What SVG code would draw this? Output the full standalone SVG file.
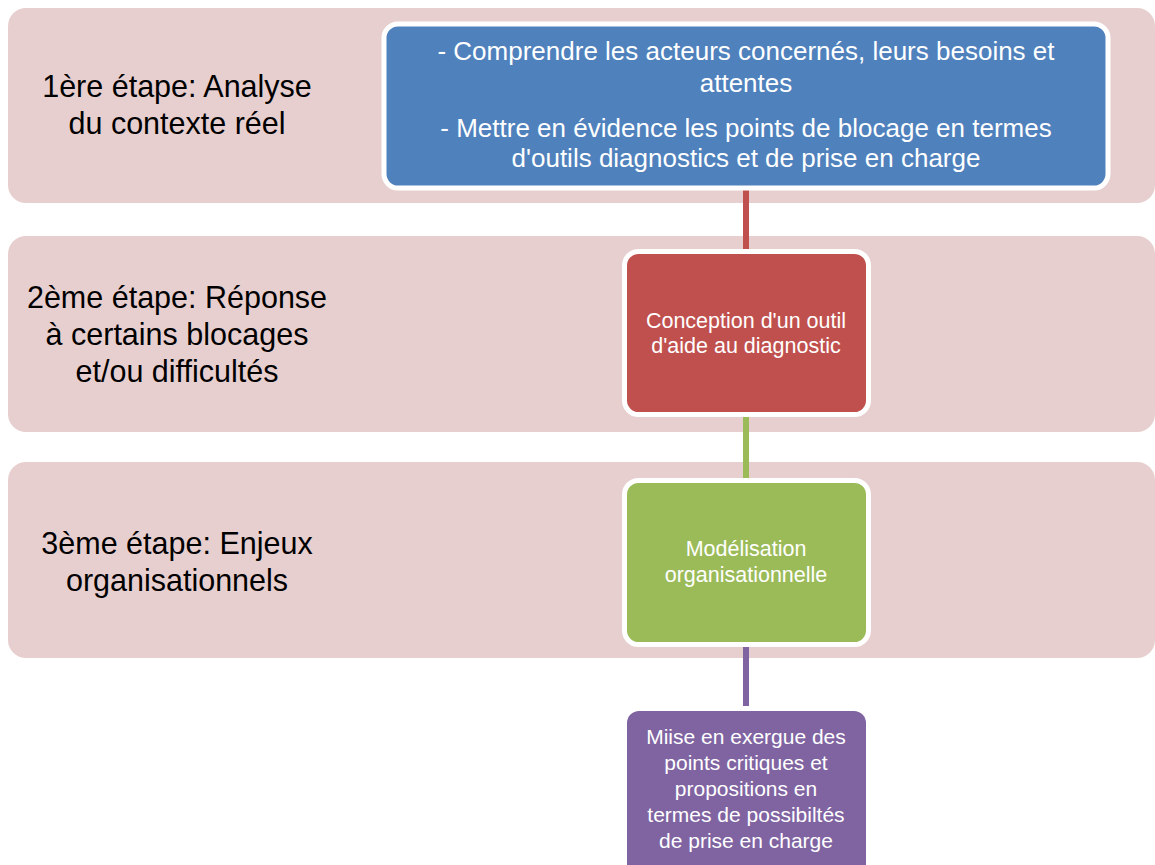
<svg xmlns="http://www.w3.org/2000/svg" width="1155" height="865" viewBox="0 0 1155 865">
<style>
.band{fill:#E8CFCF}
.lbl{font-family:"Liberation Sans",Arial,sans-serif;font-size:30.5px;fill:#000;text-anchor:middle}
.wt{font-family:"Liberation Sans",Arial,sans-serif;fill:#fff;text-anchor:middle}
.conn{stroke-width:6;fill:none}
</style>
<rect width="1155" height="865" fill="#fff"/>
<g id="band1"><rect class="band" x="8" y="8" width="1147" height="195" rx="18"/>
<text class="lbl" x="177" y="97">1ère étape: Analyse</text>
<text class="lbl" x="177" y="134">du contexte réel</text></g>
<g id="band2"><rect class="band" x="8" y="236" width="1147" height="196" rx="18"/>
<text class="lbl" x="177" y="308">2ème étape: Réponse</text>
<text class="lbl" x="177" y="345">à certains blocages</text>
<text class="lbl" x="177" y="382">et/ou difficultés</text></g>
<g id="band3"><rect class="band" x="8" y="462" width="1147" height="196" rx="18"/>
<text class="lbl" x="177" y="554">3ème étape: Enjeux</text>
<text class="lbl" x="177" y="591">organisationnels</text></g>
<g id="connectors">
<line class="conn" stroke="#C0504D" x1="746" y1="188" x2="746" y2="252"/>
<line class="conn" stroke="#9BBB59" x1="746" y1="414" x2="746" y2="481"/>
<line class="conn" stroke="#8064A2" x1="746" y1="645" x2="746" y2="706"/>
</g>
<g id="node1"><rect x="384" y="24" width="724" height="164" rx="14" fill="#4F81BD" stroke="#fff" stroke-width="5"/>
<text class="wt" font-size="26" x="746" y="60">- Comprendre les acteurs concernés, leurs besoins et</text>
<text class="wt" font-size="26" x="746" y="92">attentes</text>
<text class="wt" font-size="26" x="746" y="137">- Mettre en évidence les points de blocage en termes</text>
<text class="wt" font-size="26" x="746" y="167">d'outils diagnostics et de prise en charge</text></g>
<g id="node2"><rect x="624.5" y="251.5" width="244" height="163" rx="14" fill="#C0504D" stroke="#fff" stroke-width="5"/>
<text class="wt" font-size="21.5" x="746" y="328">Conception d'un outil</text>
<text class="wt" font-size="21.5" x="746" y="353">d'aide au diagnostic</text></g>
<g id="node3"><rect x="624.5" y="480.5" width="244" height="164" rx="14" fill="#9BBB59" stroke="#fff" stroke-width="5"/>
<text class="wt" font-size="21.5" x="746" y="556">Modélisation</text>
<text class="wt" font-size="21.5" x="746" y="582">organisationnelle</text></g>
<g id="node4"><rect x="627" y="711" width="239" height="170" rx="12" fill="#8064A2"/>
<text class="wt" font-size="21" x="746" y="744">Miise en exergue des</text>
<text class="wt" font-size="21" x="746" y="770">points critiques et</text>
<text class="wt" font-size="21" x="746" y="796">propositions en</text>
<text class="wt" font-size="21" x="746" y="822">termes de possibiltés</text>
<text class="wt" font-size="21" x="746" y="848">de prise en charge</text></g>
</svg>
